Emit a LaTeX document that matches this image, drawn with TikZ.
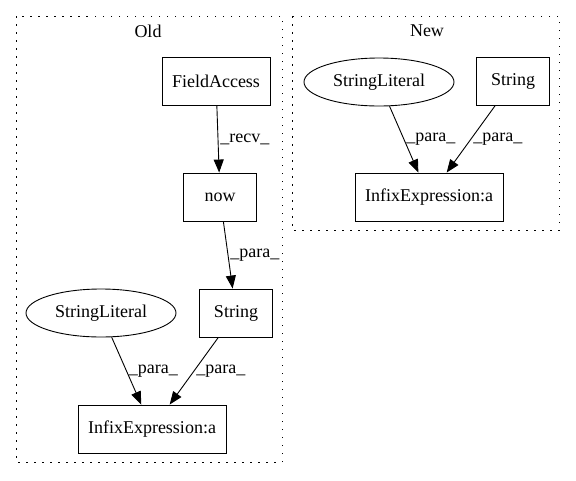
\documentclass[tikz,border=0pt]{standalone}
\usepackage{fontspec}
\setmainfont{Liberation Serif}
\usetikzlibrary{arrows.meta,shapes.geometric}

\begin{document}
\begin{tikzpicture}
  [x=1pt, y=-1pt, line width=0.9pt,
   every node/.style={font=\fontsize{18}{21}\selectfont},
   box/.style={draw, rectangle, minimum height=48pt, minimum width=73pt, inner xsep=10pt},
   oval/.style={draw, ellipse, minimum height=48pt, minimum width=150pt, inner sep=0pt},
   cluster/.style={draw, dash pattern=on 1.5pt off 6.5pt},
   edge/.style={-{Triangle[length=13pt,width=10pt]}},
   lbl/.style={midway, right, inner sep=2pt}]
  \useasboundingbox[fill=white] (0,0) rectangle (576,480);
  % clusters
  \draw[cluster] (16,16) rectangle (282,462);
  \draw[cluster] (292,16) rectangle (559,230);
  \node (oldtitle) at (148,31) {Old};
  \node (newtitle) at (427,31) {New};
  % old
  \node [box] (fieldaccess) at (216,81) {FieldAccess};
  \node [box] (now) at (220,197) {now};
  \node [box] (stringold) at (236,313) {String};
  \node [oval] (litold) at (101,313) {StringLiteral};
  \node [box] (infixold) at (152,429) {InfixExpression:a};
  % new
  \node [oval] (litnew) at (379,82) {StringLiteral};
  \node [box] (stringnew) at (513,81) {String};
  \node [box] (infixnew) at (429,197) {InfixExpression:a};

  \draw[edge] (fieldaccess) -- (now) node[lbl] {\_recv\_};
  \draw[edge] (now) -- (stringold) node[lbl] {\_para\_};
  \draw[edge] (litold) -- (infixold) node[lbl] {\_para\_};
  \draw[edge] (stringold) -- (infixold) node[lbl] {\_para\_};
  \draw[edge] (litnew) -- (infixnew) node[lbl] {\_para\_};
  \draw[edge] (stringnew) -- (infixnew) node[lbl] {\_para\_};
\end{tikzpicture}
\end{document}
